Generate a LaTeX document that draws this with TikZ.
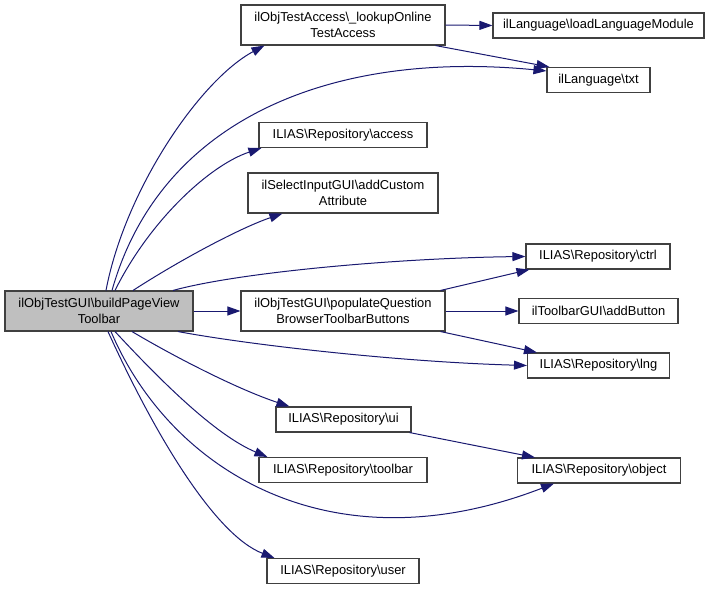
\documentclass[tikz,border=0pt]{standalone}
\usepackage{fontspec}
\setmainfont{Liberation Sans}
\usetikzlibrary{arrows.meta}
\definecolor{edgeblue}{HTML}{191970}
\definecolor{boxgray}{HTML}{404040}
\definecolor{rootfill}{HTML}{BFBFBF}

\begin{document}
\begin{tikzpicture}[x=1pt,y=-1pt,
    fn/.style={draw=boxgray, fill=white, line width=1.1pt, inner sep=0pt,
      minimum height=25pt, align=center, font=\fontsize{12.9}{15.5}\selectfont},
    call/.style={draw=edgeblue, line width=1pt, -{Triangle[length=13pt,width=9pt]}}]
  \useasboundingbox (0,0) rectangle (709,591);
  \node[fn, fill=rootfill, minimum width=188pt, minimum height=40pt] (build) at (99,311) {ilObjTestGUI\textbackslash buildPageView\\Toolbar};
  \node[fn, minimum width=204pt, minimum height=40pt] (lookup) at (343,25) {ilObjTestAccess\textbackslash\_lookupOnline\\TestAccess};
  \node[fn, minimum width=211pt] (loadlm) at (598.5,25.5) {ilLanguage\textbackslash loadLanguageModule};
  \node[fn, minimum width=103pt] (txt) at (598.5,80) {ilLanguage\textbackslash txt};
  \node[fn, minimum width=168pt] (access) at (343,135) {ILIAS\textbackslash Repository\textbackslash access};
  \node[fn, minimum width=190pt, minimum height=40pt] (addcustom) at (343,193) {ilSelectInputGUI\textbackslash addCustom\\Attribute};
  \node[fn, minimum width=144pt] (ctrl) at (598,256.5) {ILIAS\textbackslash Repository\textbackslash ctrl};
  \node[fn, minimum width=204pt, minimum height=40pt] (populate) at (343,311) {ilObjTestGUI\textbackslash populateQuestion\\BrowserToolbarButtons};
  \node[fn, minimum width=159pt] (addbutton) at (598.5,311) {ilToolbarGUI\textbackslash addButton};
  \node[fn, minimum width=142pt] (lng) at (598.5,365.5) {ILIAS\textbackslash Repository\textbackslash lng};
  \node[fn, minimum width=135pt] (ui) at (343.5,419.5) {ILIAS\textbackslash Repository\textbackslash ui};
  \node[fn, minimum width=168pt] (toolbar) at (343,470) {ILIAS\textbackslash Repository\textbackslash toolbar};
  \node[fn, minimum width=163pt] (object) at (599,470.5) {ILIAS\textbackslash Repository\textbackslash object};
  \node[fn, minimum width=152pt] (user) at (343,571) {ILIAS\textbackslash Repository\textbackslash user};
  % calls out of buildPageViewToolbar
  \draw[call] ([xshift=7pt]build.north) .. controls (125,190) and (200,80) .. ([xshift=24pt]lookup.south west);
  \draw[call] ([xshift=13pt]build.north) .. controls (160,120) and (330,50) .. ([yshift=-4pt]txt.north west);
  \draw[call] ([xshift=16pt]build.north) .. controls (150,220) and (210,165) .. ([xshift=3pt]access.south west);
  \draw[call] ([xshift=34pt]build.north) .. controls (180,260) and (240,228) .. ([xshift=35pt]addcustom.south west);
  \draw[call] ([xshift=74pt]build.north) .. controls (240,272) and (400,258) .. (ctrl.west);
  \draw[call] (build.east) -- (populate.west);
  \draw[call] ([xshift=79pt]build.south) .. controls (250,345) and (400,362) .. (lng.west);
  \draw[call] ([xshift=33pt]build.south) .. controls (180,360) and (240,390) .. ([xshift=14pt]ui.north west);
  \draw[call] ([xshift=16pt]build.south) .. controls (160,380) and (215,435) .. ([xshift=9pt]toolbar.north west);
  \draw[call] ([xshift=12pt]build.south) .. controls (170,470) and (330,570) .. ([xshift=-45pt]object.south);
  \draw[call] ([xshift=9pt]build.south) .. controls (155,435) and (215,535) .. ([xshift=8pt]user.north west);
  % second level
  \draw[call] (lookup.east) -- (loadlm.west);
  \draw[call] ([xshift=-10pt]lookup.south east) -- ([xshift=3pt]txt.north west);
  \draw[call] ([xshift=-5pt]populate.north east) -- ([xshift=4pt]ctrl.south west);
  \draw[call] (populate.east) -- (addbutton.west);
  \draw[call] ([xshift=-5pt]populate.south east) -- ([xshift=10pt]lng.north west);
  \draw[call] ([xshift=-2pt]ui.south east) -- ([xshift=18pt]object.north west);
\end{tikzpicture}
\end{document}
